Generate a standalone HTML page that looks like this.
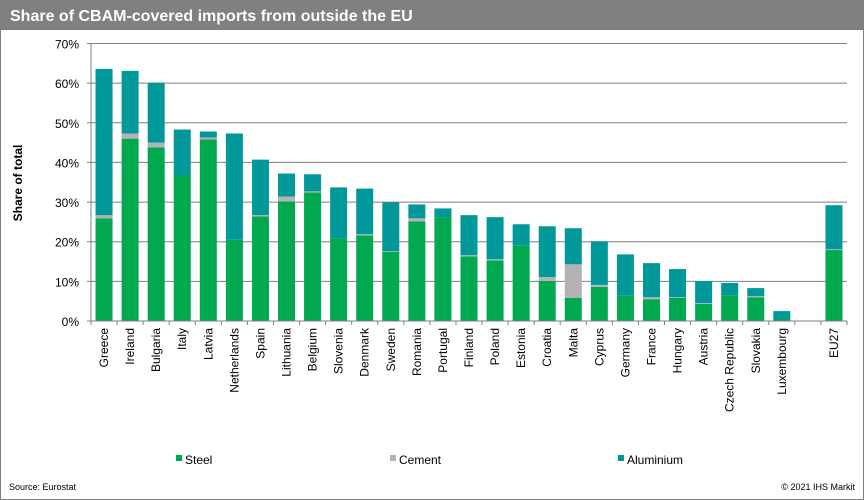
<!DOCTYPE html>
<html><head><meta charset="utf-8"><style>
body{margin:0;background:#fff;font-family:"Liberation Sans",Arial,sans-serif}
#wrap{position:relative;width:864px;height:500px;overflow:hidden}
</style></head><body>
<div id="wrap">
<svg id="chart" width="864" height="500" xmlns="http://www.w3.org/2000/svg">
<rect x="0.5" y="0.5" width="863" height="499" fill="#fff" stroke="#808080"/>
<rect x="0" y="0" width="864" height="30" fill="#808080"/>
<text x="10" y="21" fill="#fff" font-weight="bold" font-size="16">Share of CBAM-covered imports from outside the EU</text>
<g id="grid"></g><g id="bars"></g><g id="axes"></g>
<text transform="translate(22,183) rotate(-90)" text-anchor="middle" font-weight="bold" font-size="12">Share of total</text>
<g>
<rect x="176" y="455" width="6" height="6" fill="#00a84f"/>
<text x="185" y="464" font-size="12">Steel</text>
<rect x="390" y="455" width="6" height="6" fill="#b3b3b6"/>
<text x="399" y="464" font-size="12">Cement</text>
<rect x="618" y="455" width="6" height="6" fill="#009899"/>
<text x="627" y="464" font-size="12">Aluminium</text>
</g>
<text x="9" y="490" font-size="9">Source: Eurostat</text>
<text x="855" y="490" font-size="9" text-anchor="end">© 2021  IHS Markit</text>
</svg>
</div>
<script>
const categories=["Greece","Ireland","Bulgaria","Italy","Latvia","Netherlands","Spain","Lithuania","Belgium","Slovenia","Denmark","Sweden","Romania","Portugal","Finland","Poland","Estonia","Croatia","Malta","Cyprus","Germany","France","Hungary","Austria","Czech Republic","Slovakia","Luxembourg","","EU27"];
const steel=[25.9,46.0,43.8,36.7,45.8,20.5,26.4,30.2,32.4,20.9,21.6,17.4,25.1,26.2,16.3,15.3,19.1,10.1,5.8,8.6,6.5,5.5,5.8,4.3,6.5,6.0,0.5,null,17.9];
const cement=[0.8,1.3,1.2,0,0.5,0,0.3,1.2,0.3,0,0.3,0.2,0.8,0,0.3,0.3,0,1.0,8.5,0.5,0,0.5,0.2,0.2,0,0.3,0,null,0.2];
const aluminium=[36.9,15.8,15.1,11.6,1.5,26.8,14.0,5.8,4.3,12.8,11.5,12.3,3.5,2.2,10.1,10.6,5.3,12.8,9.1,11.0,10.3,8.6,7.1,5.6,3.1,2.0,2.0,null,11.1];
const yTicks=[0,10,20,30,40,50,60,70];
const NS="http://www.w3.org/2000/svg";
const x0=91,x1=847,y0=321,yTop=43.5,yMax=70;
const slot=(x1-x0)/categories.length;
function y(v){return y0-(v/yMax)*(y0-yTop);}
function xs(i){return x0+i*slot;}
function mk(tag,attrs,parent){const e=document.createElementNS(NS,tag);for(const k in attrs)e.setAttribute(k,attrs[k]);parent.appendChild(e);return e;}
const grid=document.getElementById('grid'),bars=document.getElementById('bars'),axes=document.getElementById('axes');
yTicks.forEach(t=>{
  const l=mk('line',{x1:x0,x2:x1,y1:y(t),y2:y(t),stroke:'#808080','stroke-width':1},grid);
  
  
  const tk=mk('line',{x1:x0-4,x2:x0,y1:y(t),y2:y(t),stroke:'#808080'},axes);
  
  
  const tx=mk('text',{x:x0-12,y:y(t)+5,'text-anchor':'end','font-size':12},axes);
  tx.textContent=t+'%';
  
  
});
const ya=mk('line',{x1:x0,x2:x0,y1:yTop,y2:y0,stroke:'#808080'},axes);


for(let i=0;i<=categories.length;i++){
  const tk=mk('line',{x1:xs(i),x2:xs(i),y1:y0,y2:y0+4,stroke:'#808080'},axes);
  
  
}
const bw=17;
categories.forEach((c,i)=>{
  if(!c)return;
  const bx=xs(i)+(slot-bw)/2;
  let base=0;
  [[steel,'#00a84f','steel'],[cement,'#b3b3b6','cement'],[aluminium,'#009899','aluminium']].forEach(([arr,col,nm])=>{
    const v=arr[i]||0;
    if(v>0){
      const r=mk('rect',{x:bx,y:y(base+v),width:bw,height:y(base)-y(base+v),fill:col},bars);
      
      
    }
    base+=v;
  });
  const cx=xs(i)+slot/2+4;
  const t=mk('text',{transform:`translate(${cx},328) rotate(-90)`,'text-anchor':'end','font-size':12},axes);
  t.textContent=c;
  
  
});
const xa=mk('line',{x1:x0,x2:x1,y1:y0,y2:y0,stroke:'#808080'},axes);


</script>
</body></html>
